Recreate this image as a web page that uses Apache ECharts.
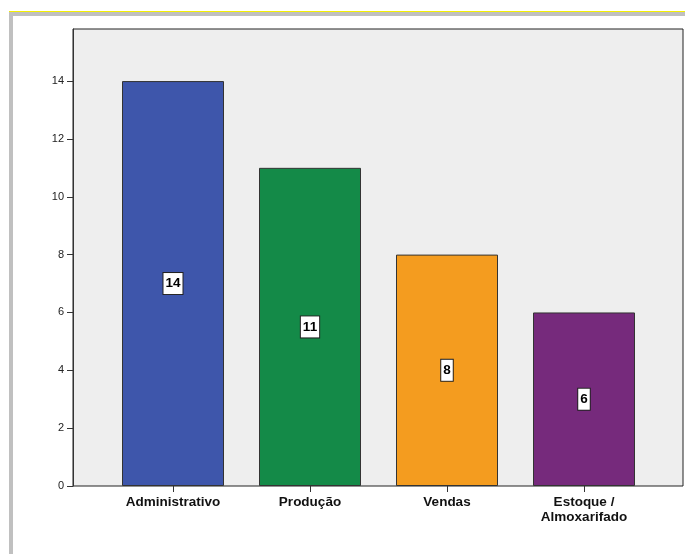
<!DOCTYPE html>
<html>
<head>
<meta charset="utf-8">
<script src="https://cdn.jsdelivr.net/npm/echarts@6/dist/echarts.min.js"></script>
<style>
  html, body { margin: 0; padding: 0; background: #ffffff; }
  #chart { position: absolute; left: 0; top: 0; width: 685px; height: 554px; }
  #frame {
    position: absolute; left: 9px; top: 11px; width: 676px; height: 543px;
    border-top: 1px solid #f4f000; box-sizing: border-box; pointer-events: none;
  }
  #frame::after {
    content: ""; position: absolute; left: 0; top: 0; right: 0; bottom: 0;
    border-top: 4px solid #c0c0c0; border-left: 4px solid #c0c0c0;
  }
</style>
</head>
<body>
<div id="chart"></div>
<div id="frame"></div>
<script>
// Count per department
const categories = ['Administrativo', 'Produção', 'Vendas', 'Estoque /\nAlmoxarifado'];
const counts = [14, 11, 8, 6];
const barColors = ['#3e56ab', '#148a48', '#f49c1f', '#762a7c'];
const yTicks = [0, 2, 4, 6, 8, 10, 12, 14];
const yMax = 15.8;

const chart = echarts.init(document.getElementById('chart'), null, { renderer: 'canvas' });

const font = 'Arial, "Liberation Sans", sans-serif';

chart.setOption({
  animation: false,
  grid: [
    // plot frame with the value axis
    { left: 73, top: 29, right: 2, bottom: 68, show: true,
      backgroundColor: '#eeeeee', borderColor: '#222222', borderWidth: 1 },
    // band layout for the bars
    { left: 104.5, top: 29, width: 548, bottom: 68 }
  ],
  xAxis: [
    { gridIndex: 0, type: 'category', data: categories, show: false },
    { gridIndex: 1, type: 'category', data: categories,
      axisLine: { show: false },
      axisTick: { show: true, alignWithLabel: true, length: 6,
        lineStyle: { color: '#333333', width: 1 } },
      axisLabel: { color: '#111111', fontFamily: font, fontWeight: 'bold',
        fontSize: 13.5, lineHeight: 15, margin: 9, interval: 0 } }
  ],
  yAxis: [
    { gridIndex: 0, type: 'value', min: 0, max: yMax,
      splitLine: { show: false },
      axisLine: { show: true, lineStyle: { color: '#333333', width: 1 } },
      axisTick: { show: true, length: 6, customValues: yTicks,
        lineStyle: { color: '#333333', width: 1 } },
      axisLabel: { customValues: yTicks, color: '#222222', fontFamily: font,
        fontSize: 11, margin: 9 } },
    { gridIndex: 1, type: 'value', min: 0, max: yMax, show: false,
      splitLine: { show: false } }
  ],
  series: [{
    type: 'bar',
    xAxisIndex: 1, yAxisIndex: 1,
    barWidth: 102,
    data: counts.map((v, i) => ({ value: v, itemStyle: { color: barColors[i] } })),
    itemStyle: { borderColor: '#333333', borderWidth: 1 },
    label: {
      show: true, position: 'inside', color: '#000000', fontFamily: font,
      fontWeight: 'bold', fontSize: 13.5, lineHeight: 14,
      backgroundColor: '#ffffff', borderColor: '#222222', borderWidth: 1,
      padding: [4, 2, 3, 2]
    }
  }]
});
</script>
</body>
</html>
